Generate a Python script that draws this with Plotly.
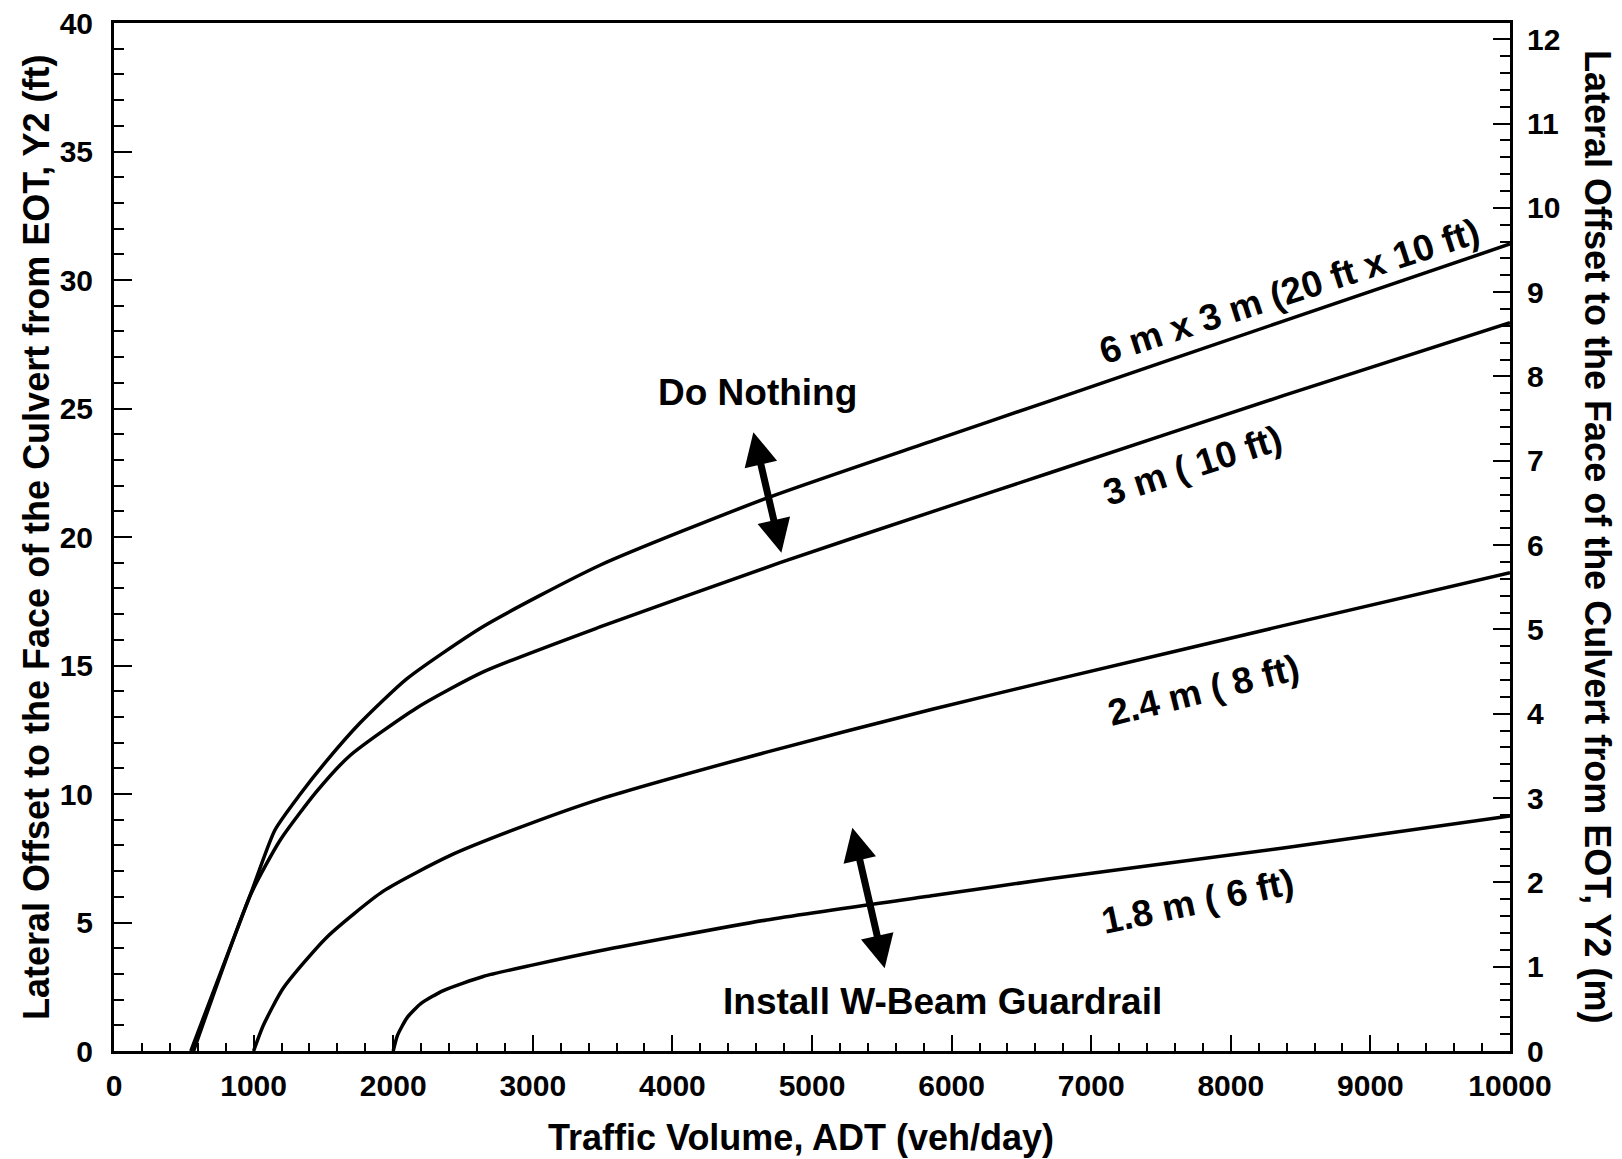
import plotly.graph_objects as go

# ---------------- data ----------------
adt_6x3 = [550, 980, 1153, 1332, 1523, 1762, 2097, 2645, 3481, 4675, 5869, 6705, 8376, 10000]
off_6x3 = [0, 6.13, 8.6, 9.98, 11.29, 12.76, 14.48, 16.52, 18.9, 21.51, 23.75, 25.3, 28.4, 31.4]

adt_3m = [570, 980, 1190, 1452, 1691, 2168, 2645, 3481, 4771, 5869, 6705, 8376, 10000]
off_3m = [0, 6.1, 8.2, 10.1, 11.5, 13.35, 14.75, 16.5, 19.0, 21.0, 22.5, 25.5, 28.34]

adt_24m = [1000, 1070, 1213, 1523, 1929, 2406, 2884, 3481, 4675, 5869, 6705, 8376, 10000]
off_24m = [0, 1.0, 2.45, 4.42, 6.22, 7.6, 8.65, 9.8, 11.63, 13.31, 14.4, 16.55, 18.61]

adt_18m = [2000, 2030, 2100, 2200, 2359, 2645, 3004, 3481, 4675, 5869, 6705, 8376, 10000]
off_18m = [0, 0.6, 1.3, 1.85, 2.35, 2.9, 3.35, 3.9, 5.1, 6.05, 6.7, 7.9, 9.14]

curve_labels = ["6 m x 3 m (20 ft x 10 ft)", "3 m ( 10 ft)", "2.4 m ( 8 ft)", "1.8 m ( 6 ft)"]
label_x = [8417, 7729, 7801, 7765]
label_y = [29.54, 22.8, 14.02, 5.8]
label_angle = [-18, -18, -14, -12]

region_labels = ["Do Nothing", "Install W-Beam Guardrail"]
region_x = [4606, 5934]
region_y = [25.63, 1.93]

# double arrows: (x_top, y_top, x_bottom, y_bottom)
arrow_top_x = [4580, 5289]
arrow_top_y = [24.08, 8.69]
arrow_bot_x = [4783, 5523]
arrow_bot_y = [19.33, 3.16]

FT_TO_M = 0.3048
FONT = "Liberation Sans, Arial, Helvetica, sans-serif"

fig = go.Figure()
for xs, ys in [(adt_6x3, off_6x3), (adt_3m, off_3m), (adt_24m, off_24m), (adt_18m, off_18m)]:
    fig.add_trace(go.Scatter(x=xs, y=ys, mode="lines",
                             line=dict(color="black", width=3.5, shape="spline", smoothing=0.6),
                             showlegend=False, hoverinfo="skip"))

# invisible trace to activate the right axis
fig.add_trace(go.Scatter(x=[0], y=[0], yaxis="y2", mode="markers",
                         marker=dict(opacity=0), showlegend=False, hoverinfo="skip"))

annotations = []
for t, x, y, a in zip(curve_labels, label_x, label_y, label_angle):
    annotations.append(dict(x=x, y=y, xref="x", yref="y", text="<b>%s</b>" % t,
                            showarrow=False, textangle=a,
                            font=dict(size=37, color="black", family=FONT)))
for t, x, y in zip(region_labels, region_x, region_y):
    annotations.append(dict(x=x, y=y, xref="x", yref="y", text="<b>%s</b>" % t,
                            showarrow=False,
                            font=dict(size=37, color="black", family=FONT)))
for xt, yt, xb, yb in zip(arrow_top_x, arrow_top_y, arrow_bot_x, arrow_bot_y):
    annotations.append(dict(x=xt, y=yt, ax=xb, ay=yb, xref="x", yref="y", axref="x", ayref="y",
                            text="", showarrow=True, arrowside="end+start",
                            arrowhead=2, startarrowhead=2, arrowsize=0.95, startarrowsize=0.95,
                            arrowwidth=7, arrowcolor="black"))

# axis titles
annotations.append(dict(x=-0.0559, y=0.5, xref="paper", yref="paper",
                        text="<b>Lateral Offset to the Face of the Culvert from EOT, Y2 (ft)</b>",
                        textangle=-90, showarrow=False, xanchor="center", yanchor="middle",
                        font=dict(size=36, color="black", family=FONT)))
annotations.append(dict(x=1.063, y=0.5, xref="paper", yref="paper",
                        text="<b>Lateral Offset to the Face of the Culvert from EOT, Y2 (m)</b>",
                        textangle=90, showarrow=False, xanchor="center", yanchor="middle",
                        font=dict(size=36, color="black", family=FONT)))
annotations.append(dict(x=0.492, y=-0.0846, xref="paper", yref="paper",
                        text="<b>Traffic Volume, ADT (veh/day)</b>",
                        showarrow=False, xanchor="center", yanchor="middle",
                        font=dict(size=36, color="black", family=FONT)))

tickfont = dict(size=30, color="black", family=FONT, weight="bold")

fig.update_layout(
    width=1622, height=1159,
    margin=dict(l=114, r=112, t=23, b=108, autoexpand=False),
    paper_bgcolor="white", plot_bgcolor="white",
    font=dict(family=FONT, color="black"),
    annotations=annotations,
    xaxis=dict(range=[0, 10000], dtick=1000, tick0=0, showgrid=False, zeroline=False,
               tickformat="d", automargin=False,
               showline=True, linecolor="black", linewidth=3, mirror=True,
               ticks="inside", ticklen=16, tickwidth=2, tickcolor="black",
               minor=dict(dtick=200, ticks="inside", ticklen=8, tickwidth=2, tickcolor="black", showgrid=False),
               tickfont=tickfont, ticklabelstandoff=6),
    yaxis=dict(range=[0, 40], dtick=5, tick0=0, showgrid=False, zeroline=False,
               automargin=False,
               showline=True, linecolor="black", linewidth=3,
               ticks="inside", ticklen=18, tickwidth=2, tickcolor="black",
               minor=dict(dtick=1, ticks="inside", ticklen=10, tickwidth=2, tickcolor="black", showgrid=False),
               tickfont=tickfont, ticklabelstandoff=12),
    yaxis2=dict(range=[0, 40 * FT_TO_M], dtick=1, tick0=0, overlaying="y", side="right",
                showgrid=False, zeroline=False, automargin=False,
                showline=True, linecolor="black", linewidth=3,
                ticks="inside", ticklen=17, tickwidth=2, tickcolor="black",
                minor=dict(dtick=0.2, ticks="inside", ticklen=10, tickwidth=2, tickcolor="black", showgrid=False),
                tickfont=tickfont, ticklabelstandoff=8),
)

fig.write_html("out.html", config={"displayModeBar": False},
               post_script="document.body.style.margin='0';document.body.style.overflow='hidden';")
